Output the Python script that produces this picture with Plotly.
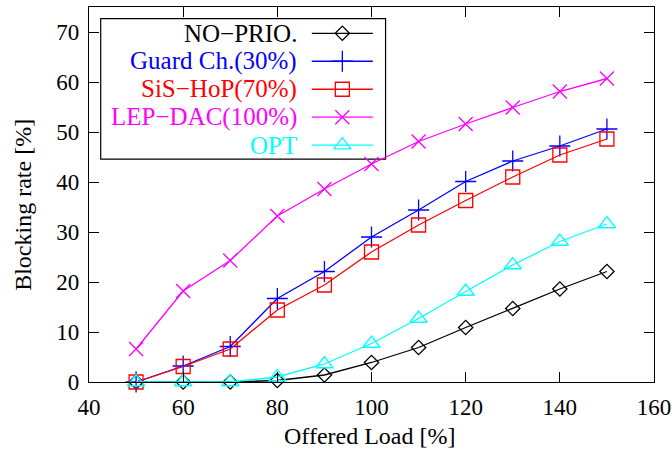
import plotly.graph_objects as go

# ---- data ----
offered_load = [50, 60, 70, 80, 90, 100, 110, 120, 130, 140, 150]
no_prio = [0.0, 0.0, 0.0, 0.3, 1.4, 3.9, 6.9, 10.9, 14.7, 18.6, 22.1]
guard_ch = [0.0, 3.2, 7.1, 16.7, 22.1, 29.0, 34.4, 40.1, 44.2, 47.2, 50.6]
sis_hop = [0.0, 3.1, 6.6, 14.4, 19.4, 26.0, 31.4, 36.3, 41.0, 45.4, 48.6]
lep_dac = [6.6, 18.2, 24.3, 33.2, 38.6, 43.6, 48.1, 51.6, 54.9, 58.1, 60.7]
opt = [0.0, 0.0, 0.0, 1.0, 3.6, 7.7, 12.7, 18.1, 23.4, 28.1, 31.6]

series_names = ["NO\u2212PRIO.", "Guard Ch.(30%)", "SiS\u2212HoP(70%)", "LEP\u2212DAC(100%)", "OPT"]
series_values = [no_prio, guard_ch, sis_hop, lep_dac, opt]
x_ticks = [40, 60, 80, 100, 120, 140, 160]
y_ticks = [0, 10, 20, 30, 40, 50, 60, 70]

# ---- styles ----
colors = ["#000000", "#0000ff", "#ff0000", "#ff00ff", "#00ffff"]
symbols = ["diamond-open", "cross-thin-open", "square-open", "x-thin-open", "triangle-up-open"]
sizes = [11, 15, 14, 14, 15]
FONT = "Liberation Serif"

fig = go.Figure()
for name, vals, c, s, sz in zip(series_names, series_values, colors, symbols, sizes):
    fig.add_trace(go.Scatter(
        x=offered_load, y=vals, mode="lines+markers", name=name,
        line=dict(color=c, width=1.3),
        marker=dict(symbol=s, size=sz, color=c, line=dict(color=c, width=1.3)),
        cliponaxis=False, showlegend=False, hoverinfo="skip"))

# ---- manual gnuplot-style legend (text left, sample right) ----
W, H = 564.7, 375.3
def px2x(px): return (px - 89.3) / W
def py2y(py): return (382.0 - py) / H

row_py = [33, 61, 89, 117, 145]
sx0, sx1 = px2x(312), px2x(373)
for name, c, s, sz, py in zip(series_names, colors, symbols, sizes, row_py):
    yy = py2y(py)
    fig.add_trace(go.Scatter(
        x=[sx0, sx1], y=[yy, yy], mode="lines", xaxis="x2", yaxis="y2",
        line=dict(color=c, width=1.3),
        showlegend=False, hoverinfo="skip", cliponaxis=False))
    fig.add_trace(go.Scatter(
        x=[(sx0 + sx1) / 2], y=[yy], mode="markers", xaxis="x2", yaxis="y2",
        marker=dict(symbol=s, size=sz, color=c, line=dict(color=c, width=1.3)),
        showlegend=False, hoverinfo="skip", cliponaxis=False))
    fig.add_annotation(x=px2x(299), y=yy, xref="paper", yref="paper",
                       text=name, showarrow=False, xanchor="right", yanchor="middle",
                       font=dict(family=FONT, size=25, color=c))

fig.add_shape(type="rect", xref="paper", yref="paper",
              x0=px2x(101), x1=px2x(385.7), y0=py2y(159), y1=py2y(18.3),
              line=dict(color="black", width=1.2), fillcolor="white", layer="below")

# axis titles
fig.add_annotation(x=px2x(370), y=py2y(436), xref="paper", yref="paper",
                   text="Offered Load [%]", showarrow=False,
                   xanchor="center", yanchor="middle",
                   font=dict(family=FONT, size=24, color="black"))
fig.add_annotation(x=px2x(23), y=py2y(205), xref="paper", yref="paper",
                   text="Blocking rate [%]", showarrow=False, textangle=-90,
                   xanchor="center", yanchor="middle",
                   font=dict(family=FONT, size=24, color="black"))

axis_common = dict(showline=True, linecolor="black", linewidth=1.2, mirror="ticks",
                   ticks="inside", ticklen=10, tickwidth=1.2, tickcolor="black",
                   showgrid=False, zeroline=False, automargin=False,
                   tickfont=dict(family=FONT, size=23, color="black"))

fig.update_layout(
    width=672, height=451,
    margin=dict(l=89, r=18, t=7, b=69, autoexpand=False),
    paper_bgcolor="white", plot_bgcolor="white",
    font=dict(family=FONT, size=24, color="black"),
    xaxis=dict(range=[40, 160], tickvals=x_ticks, ticklabelstandoff=4, **axis_common),
    yaxis=dict(range=[0, 75], tickvals=y_ticks, ticklabelstandoff=4, **axis_common),
    xaxis2=dict(overlaying="x", range=[0, 1], visible=False, domain=[0, 1]),
    yaxis2=dict(overlaying="y", range=[0, 1], visible=False, domain=[0, 1]),
    hovermode=False,
)

fig.write_html("out.html", config={"displayModeBar": False},
               post_script="document.body.style.margin='0';")
